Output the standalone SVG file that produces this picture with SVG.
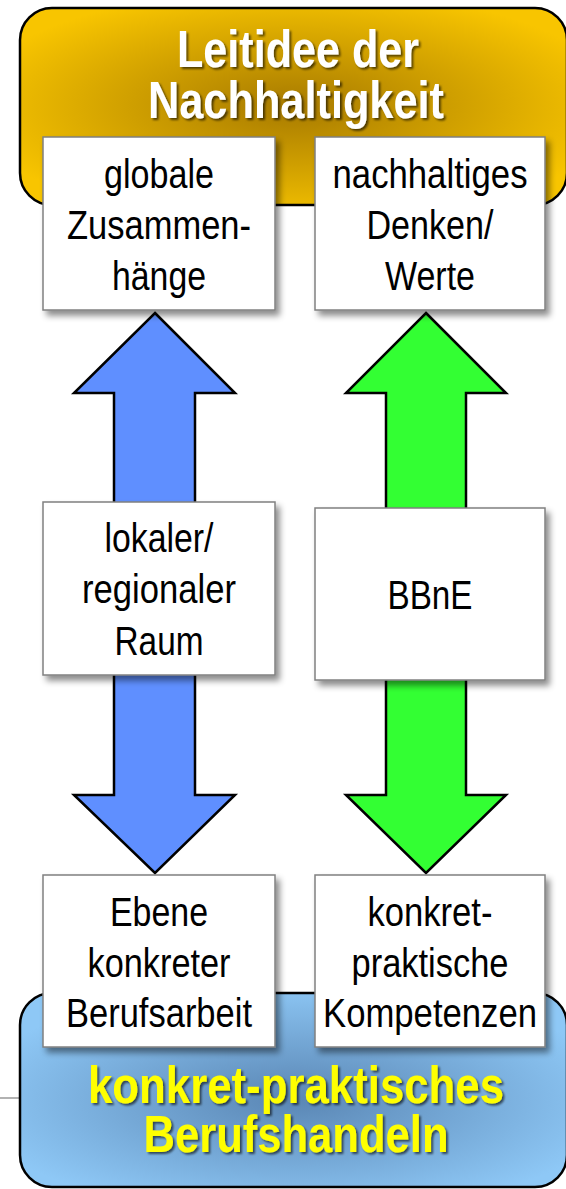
<svg xmlns="http://www.w3.org/2000/svg" width="566" height="1189" viewBox="0 0 566 1189">
<defs>
<radialGradient id="gold" cx="0.5" cy="0.5" r="0.6">
<stop offset="0" stop-color="#a77a00"/>
<stop offset="1" stop-color="#f8c500"/>
</radialGradient>
<radialGradient id="sky" cx="0.5" cy="0.55" r="0.6">
<stop offset="0" stop-color="#5a86b4"/>
<stop offset="1" stop-color="#8ec8f6"/>
</radialGradient>
<filter id="shadow" x="-10%" y="-10%" width="125%" height="125%">
<feDropShadow dx="4" dy="5" stdDeviation="3" flood-color="#000" flood-opacity="0.45"/>
</filter>
<filter id="tshadow" x="-10%" y="-10%" width="120%" height="130%">
<feDropShadow dx="2" dy="2" stdDeviation="1" flood-color="#000" flood-opacity="0.6"/>
</filter>
</defs>
<style>
.box{fill:#fff;stroke:#808080;stroke-width:1.5;filter:url(#shadow)}
.t{font-family:"Liberation Sans Narrow","Liberation Sans",Arial,sans-serif;font-size:40px;fill:#000;text-anchor:middle}
.title{font-family:"Liberation Sans Narrow","Liberation Sans",Arial,sans-serif;font-weight:bold;font-size:52px;text-anchor:middle;filter:url(#tshadow)}
.arrow{stroke:#000;stroke-width:2.5;stroke-linejoin:miter}
</style>

<g id="top-frame">
<rect x="20" y="8" width="547" height="197" rx="32" ry="32" fill="url(#gold)" stroke="#000" stroke-width="2.5"/>
<text class="title" fill="#fff" x="298" y="67" textLength="242" lengthAdjust="spacingAndGlyphs">Leitidee der</text>
<text class="title" fill="#fff" x="296" y="118" textLength="296" lengthAdjust="spacingAndGlyphs">Nachhaltigkeit</text>
</g>

<g id="bottom-frame">
<line x1="0" y1="1098" x2="20" y2="1098" stroke="#999" stroke-width="1.5"/>
<rect x="20" y="993" width="547" height="194" rx="32" ry="32" fill="url(#sky)" stroke="#000" stroke-width="2.5"/>
<text class="title" fill="#ffff00" x="296" y="1103" textLength="416" lengthAdjust="spacingAndGlyphs">konkret-praktisches</text>
<text class="title" fill="#ffff00" x="296" y="1152" textLength="305" lengthAdjust="spacingAndGlyphs">Berufshandeln</text>
</g>

<g id="connectors">
<polygon class="arrow" fill="#5f8fff" points="155,313 235,393 195,393 195,795 235,795 155,873 74,795 114,795 114,393 74,393"/>
<polygon class="arrow" fill="#33ff33" points="426,313 506,393 466,393 466,795 506,795 426,873 346,795 386,795 386,393 346,393"/>
</g>

<g id="node-globale">
<rect class="box" x="43" y="137" width="232" height="173"/>
<text class="t" x="159" y="188" textLength="110" lengthAdjust="spacingAndGlyphs">globale</text>
<text class="t" x="159" y="239" textLength="184" lengthAdjust="spacingAndGlyphs">Zusammen-</text>
<text class="t" x="159" y="290" textLength="94" lengthAdjust="spacingAndGlyphs">hänge</text>
</g>

<g id="node-nachhaltiges">
<rect class="box" x="315" y="137" width="230" height="173"/>
<text class="t" x="430" y="188" textLength="195" lengthAdjust="spacingAndGlyphs">nachhaltiges</text>
<text class="t" x="430" y="239" textLength="127" lengthAdjust="spacingAndGlyphs">Denken/</text>
<text class="t" x="430" y="290" textLength="90" lengthAdjust="spacingAndGlyphs">Werte</text>
</g>

<g id="node-lokaler">
<rect class="box" x="43" y="502" width="232" height="173"/>
<text class="t" x="159" y="552" textLength="109" lengthAdjust="spacingAndGlyphs">lokaler/</text>
<text class="t" x="159" y="603" textLength="154" lengthAdjust="spacingAndGlyphs">regionaler</text>
<text class="t" x="159" y="655" textLength="89" lengthAdjust="spacingAndGlyphs">Raum</text>
</g>

<g id="node-bbne">
<rect class="box" x="315" y="508" width="230" height="172"/>
<text class="t" x="430" y="609" textLength="85" lengthAdjust="spacingAndGlyphs">BBnE</text>
</g>

<g id="node-ebene">
<rect class="box" x="43" y="875" width="232" height="172"/>
<text class="t" x="159" y="926" textLength="98" lengthAdjust="spacingAndGlyphs">Ebene</text>
<text class="t" x="159" y="977" textLength="143" lengthAdjust="spacingAndGlyphs">konkreter</text>
<text class="t" x="159" y="1027" textLength="186" lengthAdjust="spacingAndGlyphs">Berufsarbeit</text>
</g>

<g id="node-kompetenzen">
<rect class="box" x="315" y="875" width="230" height="172"/>
<text class="t" x="430" y="926" textLength="125" lengthAdjust="spacingAndGlyphs">konkret-</text>
<text class="t" x="430" y="977" textLength="157" lengthAdjust="spacingAndGlyphs">praktische</text>
<text class="t" x="430" y="1027" textLength="214" lengthAdjust="spacingAndGlyphs">Kompetenzen</text>
</g>
</svg>
